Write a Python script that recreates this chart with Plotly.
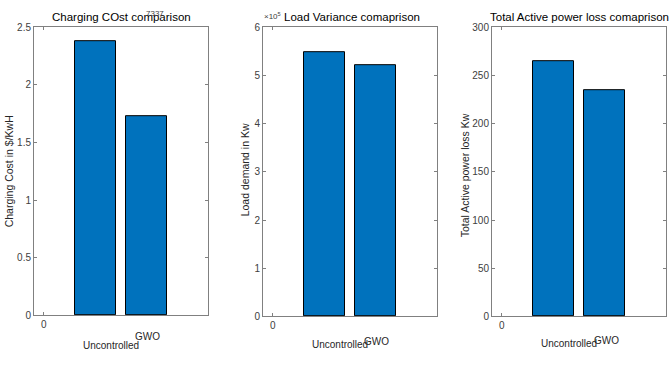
import plotly.graph_objects as go

categories = ["Uncontrolled", "GWO"]
bar_positions = [1, 2]
charging_cost = [2.38, 1.73]
load_variance = [5.48e5, 5.21e5]
power_loss = [264.5, 235.0]

titles = ["Charging COst comparison", "Load Variance comaprison", "Total Active power loss comaprison"]
ytitles = ["Charging Cost in $/KwH", "Load demand in Kw", "Total Active power loss Kw"]

W, H = 672, 367
def px(x):
    return x / W
def py(y):
    return 1 - ((y - 6) / 0.965) / H

panels = [
    dict(x0=34, x1=208, y0=28, y1=314, vals=charging_cost, ymax=2.5,
         tv=[0, 0.5, 1, 1.5, 2, 2.5], tt=["0", "0.5", "1", "1.5", "2", "2.5"],
         ytx=9, yty=171, ttl_x=121, unc=(111, 344), gwo=(147, 335)),
    dict(x0=263, x1=437, y0=28, y1=315, vals=load_variance, ymax=6e5,
         tv=[i * 1e5 for i in range(7)], tt=[str(i) for i in range(7)],
         ytx=245, yty=170, ttl_x=352, unc=(340, 343), gwo=(376, 340)),
    dict(x0=492, x1=666, y0=28, y1=315, vals=power_loss, ymax=300,
         tv=[0, 50, 100, 150, 200, 250, 300], tt=["0", "50", "100", "150", "200", "250", "300"],
         ytx=465, yty=175, ttl_x=579, unc=(569, 342), gwo=(606, 339)),
]

fig = go.Figure()
axis_color = "#808080"
tick_font = dict(family="Liberation Sans, Arial", size=10, color="#404040")
anns = []
for i, p in enumerate(panels):
    n = "" if i == 0 else str(i + 1)
    fig.add_trace(go.Bar(x=bar_positions, y=p["vals"], width=0.8,
                         marker=dict(color="#0072BD", line=dict(color="black", width=1)),
                         xaxis="x" + n, yaxis="y" + n, showlegend=False))
    fig.update_layout(**{
        "xaxis" + n: dict(domain=[px(p["x0"]), px(p["x1"])], range=[-0.19, 3.19],
                          anchor="y" + n, tickvals=[0], ticktext=["0"], ticks="inside",
                          ticklen=3, tickcolor=axis_color, showline=True, linecolor=axis_color,
                          linewidth=1, mirror="ticks", showgrid=False, zeroline=False,
                          tickfont=tick_font, fixedrange=True),
        "yaxis" + n: dict(domain=[py(p["y1"]), py(p["y0"])], range=[0, p["ymax"]],
                          anchor="x" + n, tickvals=p["tv"], ticktext=p["tt"], ticks="inside",
                          ticklen=3, tickcolor=axis_color, showline=True, linecolor=axis_color,
                          linewidth=1, mirror="ticks", showgrid=False, zeroline=False,
                          tickfont=tick_font, fixedrange=True),
    })
    anns.append(dict(text=titles[i], x=px(p["ttl_x"]), y=py(18), xref="paper", yref="paper",
                     showarrow=False, xanchor="center", yanchor="middle",
                     font=dict(family="Liberation Sans, Arial", size=11.5, color="black")))
    anns.append(dict(text=ytitles[i], x=px(p["ytx"]), y=py(p["yty"]), xref="paper", yref="paper",
                     showarrow=False, textangle=-90, xanchor="center", yanchor="middle",
                     font=dict(family="Liberation Sans, Arial", size=10.5, color="#262626")))
    anns.append(dict(text=categories[0], x=px(p["unc"][0]), y=py(p["unc"][1]), xref="paper", yref="paper",
                     showarrow=False, xanchor="center", yanchor="middle",
                     font=dict(family="Liberation Sans, Arial", size=10, color="#262626")))
    anns.append(dict(text=categories[1], x=px(p["gwo"][0]), y=py(p["gwo"][1]), xref="paper", yref="paper",
                     showarrow=False, xanchor="center", yanchor="middle",
                     font=dict(family="Liberation Sans, Arial", size=10, color="#262626")))

# exponent label for panel 2
anns.append(dict(text="×10<sup>5</sup>", x=px(262), y=py(17), xref="paper", yref="paper",
                 showarrow=False, xanchor="left", yanchor="middle",
                 font=dict(family="Liberation Sans, Arial", size=8, color="#404040")))
# overlapping ghost text in panel 1 title
anns.append(dict(text="7337", x=px(155), y=py(14), xref="paper", yref="paper",
                 showarrow=False, xanchor="center", yanchor="middle",
                 font=dict(family="Liberation Sans, Arial", size=8, color="#404040")))

fig.update_layout(width=W, height=H, margin=dict(l=0, r=0, t=0, b=0),
                  paper_bgcolor="white", plot_bgcolor="white", annotations=anns,
                  bargap=0)
fig.write_html("out.html", config={"displayModeBar": False},
               post_script="document.body.style.margin='0';document.body.style.overflow='hidden';")
